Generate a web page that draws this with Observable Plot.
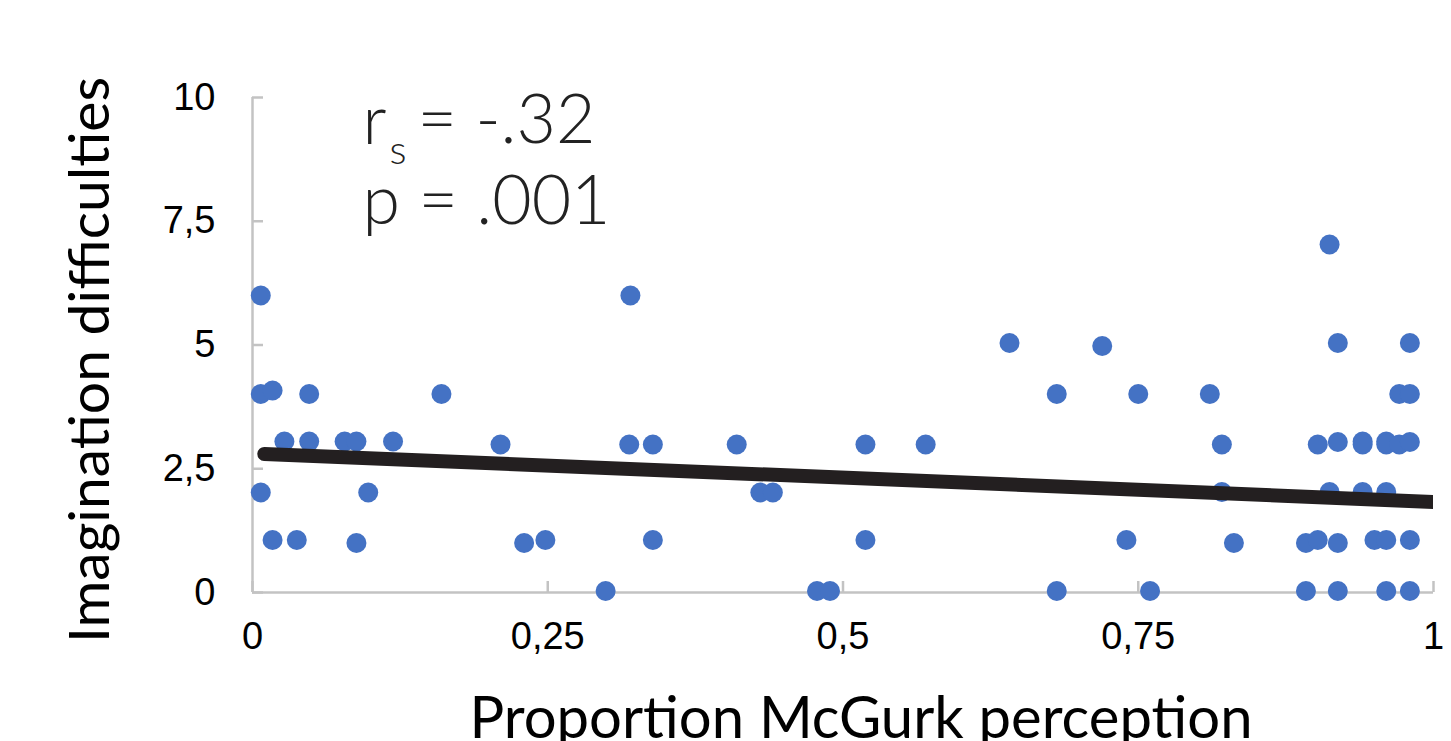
<!DOCTYPE html>
<html>
<head>
<meta charset="utf-8">
<script src="https://cdn.jsdelivr.net/npm/d3@7"></script>
<script src="https://cdn.jsdelivr.net/npm/@observablehq/plot@0.6"></script>
<style>
  html, body { margin: 0; padding: 0; background: #fff; }
  svg { display: block; }
</style>
</head>
<body>
<div id="chart"></div>
<script>
// Data
const xVals = [0.007,0.32,0.007,0.017,0.048,0.16,0.027,0.048,0.078,0.088,0.119,0.21,0.319,0.339,0.007,0.098,0.017,0.0375,0.088,0.23,0.248,0.339,0.299,
  0.41,0.519,0.57,0.641,0.681,0.43,0.4406,0.519,0.478,0.489,0.681,
  0.912,0.7195,0.919,0.98,0.75,0.8106,0.971,0.98,0.8208,0.902,0.919,0.94,0.94,0.96,0.96,0.971,0.98,0.8208,0.912,0.94,0.96,0.74,0.831,0.892,0.902,0.919,0.95,0.96,0.98,0.76,0.892,0.919,0.96,0.98];
const yVals = [6,6,4.01,4.08,4.01,4.01,3.05,3.05,3.05,3.05,3.05,2.99,2.99,2.99,2.02,2.02,1.06,1.06,1.0,1.0,1.06,1.06,0.03,
  2.99,2.99,2.99,5.04,4.01,2.02,2.02,1.06,0.03,0.03,0.03,
  7.03,4.98,5.04,5.04,4.01,4.01,4.01,4.01,2.99,2.99,3.04,3.05,2.99,3.05,2.99,2.99,3.04,2.03,2.03,2.03,2.03,1.06,1.0,1.0,1.06,1.0,1.06,1.06,1.06,0.03,0.03,0.03,0.03,0.03];
const trendX = [0.01, 1];
const trendY = [2.8, 1.83];
const xTicks = [0, 0.25, 0.5, 0.75, 1];
const xTickLabels = ["0", "0,25", "0,5", "0,75", "1"];
const yTicks = [0, 2.5, 5, 7.5, 10];
const yTickLabels = ["0", "2,5", "5", "7,5", "10"];
const xLabel = "Proportion McGurk perception";
const yLabel = "Imagination difficulties";
const statR = "r";
const statSub = "s";
const statRValue = "= -.32";
const statP = "p = .001";

const points = xVals.map((x, i) => ({x, y: yVals[i]}));
const trend = trendX.map((x, i) => ({x, y: trendY[i]}));

const W = 1451, H = 741;
const mL = 252, mR = 18, mT = 97, mB = 149;
const frameW = W - mL - mR, frameH = H - mT - mB;
const axisColor = "#c3c3c3";
const tickFont = "'Liberation Sans', Arial, sans-serif";

const chart = Plot.plot({
  width: W,
  height: H,
  marginLeft: mL,
  marginRight: mR,
  marginTop: mT,
  marginBottom: mB,
  style: {background: "#fff", overflow: "visible"},
  x: {domain: [0, 1]},
  y: {domain: [0, 10]},
  marks: [
    // axis lines
    Plot.ruleX([0], {stroke: axisColor, strokeWidth: 2.5}),
    Plot.ruleY([0], {stroke: axisColor, strokeWidth: 2.5}),
    // inside ticks
    Plot.ruleX(xTicks, {stroke: axisColor, strokeWidth: 2.5, insetTop: frameH - 11}),
    Plot.ruleY(yTicks, {stroke: axisColor, strokeWidth: 2.5, insetRight: frameW - 11}),
    // tick labels
    Plot.axisX({ticks: xTicks, tickFormat: (d) => xTickLabels[xTicks.indexOf(d)], tickSize: 0, tickPadding: 30,
      fontSize: 38, fontFamily: tickFont, fill: "#000", label: null}),
    Plot.axisY({ticks: yTicks, tickFormat: (d) => yTickLabels[yTicks.indexOf(d)], tickSize: 0, tickPadding: 37,
      fontSize: 38, fontFamily: tickFont, fill: "#000", label: null}),
    // dots
    Plot.dot(points, {x: "x", y: "y", r: 10, fill: "#4472C4", stroke: "none"}),
    // trend line
    Plot.line(trend, {x: "x", y: "y", stroke: "#231f20", strokeWidth: 14, strokeLinecap: "round", clip: true}),
    // axis titles
    Plot.text([yLabel], {text: (d) => d, frameAnchor: "left", rotate: -90, dx: -162, dy: 15,
      fontSize: 57, fontFamily: "Lato", fill: "#000", lineAnchor: "middle", textAnchor: "middle"}),
    Plot.text([xLabel], {text: (d) => d, frameAnchor: "bottom", dx: 18, dy: 145,
      fontSize: 58, fontFamily: "Lato", fill: "#000", lineAnchor: "bottom", textAnchor: "middle"}),
    // statistics annotation
    Plot.text([statR], {text: (d) => d, frameAnchor: "top-left", dx: 110, dy: 46, textAnchor: "start", lineAnchor: "bottom",
      fontSize: 68, fontWeight: 300, fontFamily: "Lato", fill: "#222"}),
    Plot.text([statSub], {text: (d) => d, frameAnchor: "top-left", dx: 137, dy: 66, textAnchor: "start", lineAnchor: "bottom",
      fontSize: 40, fontWeight: 300, fontFamily: "Lato", fill: "#222"}),
    Plot.text([statRValue], {text: (d) => d, frameAnchor: "top-left", dx: 165, dy: 45, textAnchor: "start", lineAnchor: "bottom",
      fontSize: 68, fontWeight: 300, fontFamily: "Lato", fill: "#222"}),
    Plot.text([statP], {text: (d) => d, frameAnchor: "top-left", dx: 110, dy: 126, textAnchor: "start", lineAnchor: "bottom",
      fontSize: 68, fontWeight: 300, fontFamily: "Lato", fill: "#222"})
  ]
});
document.getElementById("chart").appendChild(chart);
</script>
</body>
</html>
